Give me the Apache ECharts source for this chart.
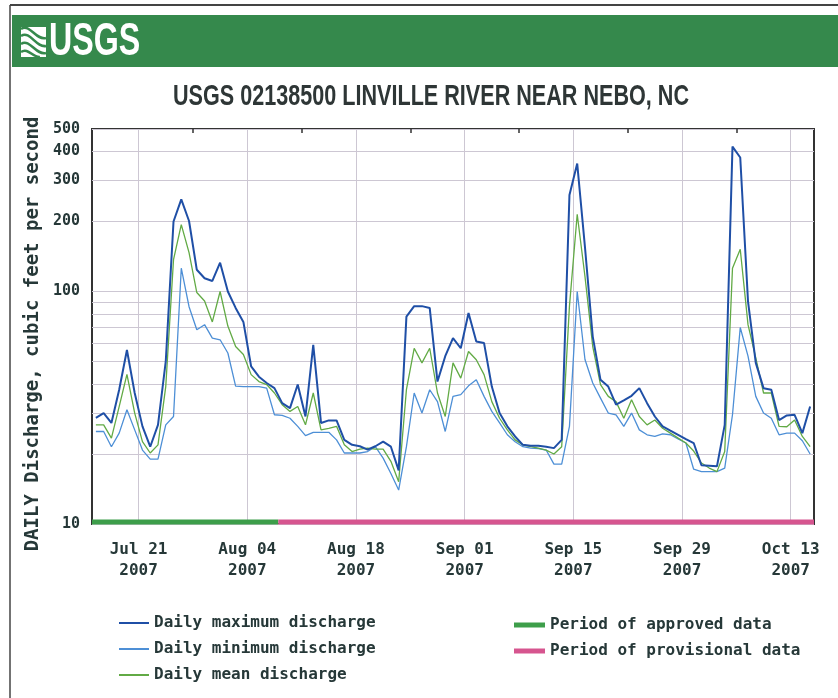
<!DOCTYPE html>
<html>
<head>
<meta charset="utf-8">
<script src="https://cdn.jsdelivr.net/npm/echarts@6/dist/echarts.min.js"></script>
<style>
html, body { margin: 0; padding: 0; background: #ffffff; }
#chart { width: 838px; height: 698px; }
</style>
</head>
<body>
<div id="chart"></div>
<script>
// Daily discharge record, one value per day starting 2007-07-15
const startDate = '2007-07-15';
const endDate = '2007-10-16';

const tickDates = ['2007-07-21', '2007-08-04', '2007-08-18', '2007-09-01', '2007-09-15', '2007-09-29', '2007-10-13'];
const tickLabels = ['Jul 21\n2007', 'Aug 04\n2007', 'Aug 18\n2007', 'Sep 01\n2007', 'Sep 15\n2007', 'Sep 29\n2007', 'Oct 13\n2007'];
const minorTickDates = ['2007-07-28', '2007-08-11', '2007-08-25', '2007-09-08', '2007-09-22', '2007-10-06'];

const yLabelValues = [10, 100, 200, 300, 400, 500];
const yGridValues = [10, 20, 30, 40, 50, 60, 70, 80, 90, 100, 200, 300, 400, 500];

const dailyMax = [
  28.6, 30, 27.2, 37.8, 56, 36.6, 26.3, 21.5, 26.7, 50,
  200, 249, 201, 124, 114, 111, 133, 100, 85, 74,
  47.6, 43, 40.4, 38.4, 33.1, 31.5, 39.8, 29, 59, 27.2,
  27.9, 27.9, 23, 21.9, 21.6, 20.9, 21.6, 22.6, 21.5, 17,
  78, 86.5, 86.5, 85, 41, 52.7, 63, 57, 80.8, 61,
  60, 39, 30, 26.3, 23.8, 21.9, 21.7, 21.7, 21.5, 21.2,
  23, 260, 355, 155, 64, 41.7, 39, 32.6, 34, 35.6,
  38.4, 33.1, 29, 26.3, 25.2, 24.2, 23.2, 22.3, 17.9, 17.8,
  17.7, 26.7, 420, 377, 90.6, 49.3, 38.4, 37.8, 28, 29.3,
  29.5, 24.6, 32
];

const dailyMin = [
  25, 25, 21.5, 24.6, 31, 25.4, 20.8, 19, 19, 26.7,
  29, 126, 86, 68.5, 72, 63, 62, 54.4, 39.2, 39,
  39, 39, 38.4, 29.5, 29.3, 28.5, 26.3, 24, 24.8, 24.8,
  24.8, 23, 20.2, 20.2, 20.2, 20.5, 21.5, 19.2, 16.5, 14,
  21.5, 36.6, 30, 37.8, 33.6, 25, 35.4, 36, 39.3, 41.7,
  35.4, 30.5, 27.2, 24.2, 22.6, 21.5, 21.2, 21.1, 20.8, 18.1,
  18.1, 26.3, 100, 51, 40.4, 34.8, 30, 29.5, 26.3, 30,
  25.4, 24.2, 23.8, 24.4, 24.2, 23.2, 22.3, 17.2, 16.8, 16.8,
  16.8, 17.4, 29.5, 70, 52.7, 35.4, 30, 28.5, 24.2, 24.6,
  24.6, 22.8, 20
];

const dailyMean = [
  26.7, 26.7, 23.4, 32, 44, 30, 22.6, 20.2, 21.9, 39,
  137, 194, 147, 99, 91, 74, 100, 71, 58, 53.6,
  43.9, 41, 39.8, 36.6, 32.6, 30.5, 32, 26.7, 36.6, 25.4,
  25.8, 26.3, 21.9, 20.5, 21, 21.2, 21, 21, 18.6, 15.2,
  37.8, 57, 49.3, 57, 36.6, 29, 49.3, 42.4, 55.2, 50.9,
  43.9, 33.6, 28.5, 25.4, 23, 21.9, 21.5, 21.2, 20.8, 20,
  21.5, 86.5, 215, 116, 58, 39.8, 35.4, 33.6, 28.5, 34.2,
  29, 26.7, 28, 25.8, 24.6, 23.4, 22.3, 20.6, 18.3, 17.4,
  16.8, 20.5, 126, 152, 72, 51.8, 36.6, 36.6, 26.3, 26.2,
  28, 23.8, 21.5
];

const approvedPeriod = ['2007-07-15', '2007-08-08'];
const provisionalPeriod = ['2007-08-08', '2007-10-16'];

const TEXT = '#263838';
const MONO = '"DejaVu Sans Mono", "Liberation Mono", monospace';

function dayOffset(d) {
  return (Date.parse(d + 'T00:00:00Z') - Date.parse(startDate + 'T00:00:00Z')) / 86400000;
}

// each daily value is plotted at midday of its date
function toPoints(values) {
  return values.map((v, i) => [i + 0.5, v]);
}

const xMin = 0;
const xMax = dayOffset(endDate);
const yMin = 10;
const yMax = 500;
const tickOffsets = tickDates.map(dayOffset);
const minorOffsets = minorTickDates.map(dayOffset);
const periodLevel = yMin * 1.02;

const chart = echarts.init(document.getElementById('chart'), null, { renderer: 'canvas' });

chart.setOption({
  backgroundColor: '#ffffff',
  animation: false,
  grid: {
    left: 92, top: 129, width: 722, height: 395,
    show: true, borderColor: '#333333', borderWidth: 2, backgroundColor: 'transparent',
    containLabel: false
  },
  xAxis: [
    {
      type: 'value', min: xMin, max: xMax,
      axisLine: { show: false },
      axisTick: { show: false, customValues: tickOffsets },
      axisLabel: {
        customValues: tickOffsets,
        margin: 15,
        color: TEXT, fontFamily: MONO, fontWeight: 'bold', fontSize: 16, lineHeight: 21,
        formatter: function (v) {
          const k = tickOffsets.indexOf(v);
          return k >= 0 ? tickLabels[k] : '';
        }
      },
      splitLine: { show: true, lineStyle: { color: '#cdc7d3', width: 1 } }
    },
    {
      type: 'value', min: xMin, max: xMax, position: 'top',
      axisLine: { show: false },
      axisTick: { show: true, inside: true, length: 4, customValues: minorOffsets, lineStyle: { color: '#333333', width: 1.5 } },
      axisLabel: { show: false },
      splitLine: { show: false }
    }
  ],
  yAxis: {
    type: 'log', logBase: 10, min: yMin, max: yMax,
    axisLine: { show: false },
    axisTick: { show: false, customValues: yGridValues },
    axisLabel: {
      customValues: yLabelValues,
      margin: 12,
      color: TEXT, fontFamily: MONO, fontWeight: 'bold', fontSize: 15
    },
    splitLine: { show: true, lineStyle: { color: '#cdc7d3', width: 1 } }
  },
  legend: [
    {
      orient: 'vertical', left: 114, top: 610,
      itemWidth: 30, itemHeight: 2, itemGap: 10, icon: 'rect',
      textStyle: { color: TEXT, fontFamily: MONO, fontWeight: 'bold', fontSize: 16, lineHeight: 16 },
      data: ['Daily maximum discharge', 'Daily minimum discharge', 'Daily mean discharge']
    },
    {
      orient: 'vertical', left: 509, top: 612,
      itemWidth: 31, itemHeight: 5, itemGap: 10, icon: 'rect',
      textStyle: { color: TEXT, fontFamily: MONO, fontWeight: 'bold', fontSize: 16, lineHeight: 16 },
      data: ['Period of approved data', 'Period of provisional data']
    }
  ],
  series: [
    {
      name: 'Period of approved data', type: 'line', symbol: 'none',
      data: approvedPeriod.map(d => [dayOffset(d), periodLevel]),
      lineStyle: { color: '#3d9e4a', width: 5 }, itemStyle: { color: '#3d9e4a' }, z: 1
    },
    {
      name: 'Period of provisional data', type: 'line', symbol: 'none',
      data: provisionalPeriod.map(d => [dayOffset(d), periodLevel]),
      lineStyle: { color: '#d6558f', width: 5 }, itemStyle: { color: '#d6558f' }, z: 1
    },
    {
      name: 'Daily minimum discharge', type: 'line', symbol: 'none',
      data: toPoints(dailyMin),
      lineStyle: { color: '#4d8fd6', width: 1.3 }, itemStyle: { color: '#4d8fd6' }, z: 2
    },
    {
      name: 'Daily mean discharge', type: 'line', symbol: 'none',
      data: toPoints(dailyMean),
      lineStyle: { color: '#62aa45', width: 1.3 }, itemStyle: { color: '#62aa45' }, z: 3
    },
    {
      name: 'Daily maximum discharge', type: 'line', symbol: 'none',
      data: toPoints(dailyMax),
      lineStyle: { color: '#1f4fa6', width: 2 }, itemStyle: { color: '#1f4fa6' }, z: 4
    }
  ],
  graphic: [
    // page frame
    { type: 'line', shape: { x1: 10, y1: 5, x2: 838, y2: 5 }, style: { stroke: '#444444', lineWidth: 2 } },
    { type: 'line', shape: { x1: 10, y1: 5, x2: 10, y2: 698 }, style: { stroke: '#444444', lineWidth: 1.5 } },
    // agency banner
    { type: 'rect', shape: { x: 12, y: 15, width: 826, height: 52 }, style: { fill: '#35894c' } },
    // wave mark
    { type: 'rect', shape: { x: 21, y: 27, width: 25, height: 30 }, style: { fill: '#ffffff' } },
    { type: 'bezierCurve', shape: { x1: 21, y1: 36, x2: 46, y2: 46, cpx1: 30, cpy1: 30, cpx2: 36, cpy2: 48 }, style: { stroke: '#35894c', lineWidth: 2.5, fill: null } },
    { type: 'bezierCurve', shape: { x1: 21, y1: 44, x2: 46, y2: 53, cpx1: 30, cpy1: 38, cpx2: 36, cpy2: 56 }, style: { stroke: '#35894c', lineWidth: 2.5, fill: null } },
    { type: 'bezierCurve', shape: { x1: 21, y1: 52, x2: 40, y2: 57, cpx1: 28, cpy1: 47, cpx2: 33, cpy2: 58 }, style: { stroke: '#35894c', lineWidth: 2.5, fill: null } },
    { type: 'bezierCurve', shape: { x1: 21, y1: 29, x2: 46, y2: 38, cpx1: 30, cpy1: 23, cpx2: 36, cpy2: 41 }, style: { stroke: '#35894c', lineWidth: 2.5, fill: null } },
    {
      type: 'text', x: 49, y: 42, scaleX: 0.7,
      style: { text: 'USGS', fill: '#ffffff', font: 'bold 46px "Liberation Sans", Arial, sans-serif', textAlign: 'left', textVerticalAlign: 'middle' }
    },
    // station title
    {
      type: 'text', x: 431, y: 97, scaleX: 0.72,
      style: { text: 'USGS 02138500 LINVILLE RIVER NEAR NEBO, NC', fill: '#2e3636', font: 'bold 30px "Liberation Sans", Arial, sans-serif', textAlign: 'center', textVerticalAlign: 'middle' }
    },
    // y axis title
    {
      type: 'text', x: 33, y: 334, rotation: Math.PI / 2,
      style: { text: 'DAILY Discharge, cubic feet per second', fill: TEXT, font: 'bold 19px ' + MONO, textAlign: 'center', textVerticalAlign: 'middle' }
    }
  ]
});
</script>
</body>
</html>
